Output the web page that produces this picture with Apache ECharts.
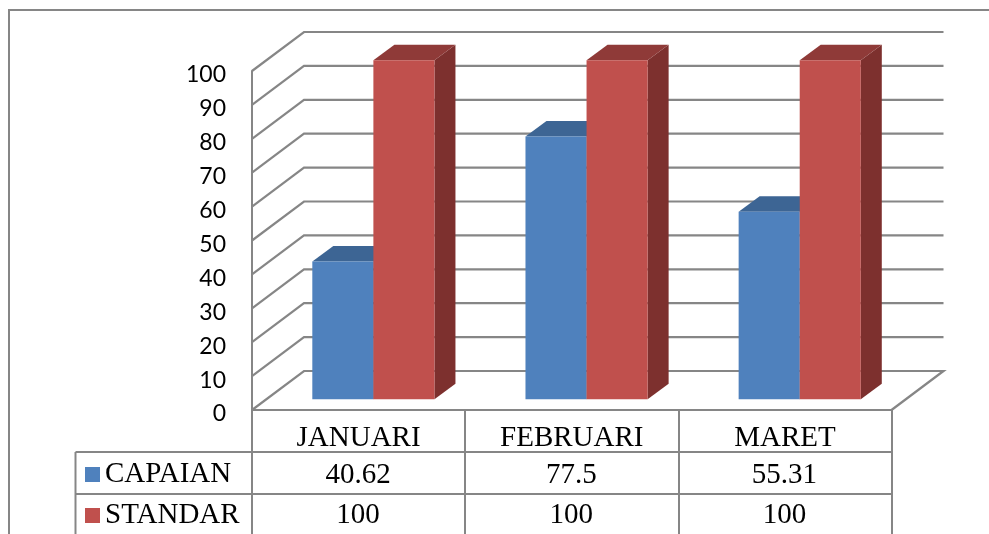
<!DOCTYPE html>
<html>
<head>
<meta charset="utf-8">
<style>html,body{margin:0;padding:0;background:#fff}#c{width:989px;height:534px}</style>
<script src="https://cdn.jsdelivr.net/npm/echarts@6/dist/echarts.min.js"></script>
</head>
<body>
<div id="c"></div>
<script>
var categories = ['JANUARI', 'FEBRUARI', 'MARET'];
var capaian = [40.62, 77.5, 55.31];
var standar = [100, 100, 100];
var yTicks = [0, 10, 20, 30, 40, 50, 60, 70, 80, 90, 100];

var LINE = '#868686', SERIF = '"Liberation Serif", serif';
var WALL = [52, -39], BAR_SHIFT = [14.8, -10.8], DEPTH = [21, -15.5];
var chart = echarts.init(document.getElementById('c'));

function wallRender(params, api) {
  var cs = params.coordSys, y = api.coord([0, api.value(1)])[1];
  var left = cs.x, right = cs.x + cs.width;
  var pts = [[left, y], [left + WALL[0], y + WALL[1]], [right + WALL[0], y + WALL[1]]];
  if (api.value(1) === 0) pts.push([right, y]);
  return { type: 'polyline', shape: { points: pts },
    style: { stroke: LINE, lineWidth: 2.2, fill: null } };
}

function barRender(side, colors, rowY) {
  return function (params, api) {
    var i = api.value(0), v = api.value(1);
    var w = api.size([1, 0])[0] * 0.2865;
    var cx = api.coord([i, 0])[0];
    var x0 = cx + BAR_SHIFT[0] + (side < 0 ? -w : 0), x1 = x0 + w;
    var yb = api.coord([i, 0])[1], bot = yb + BAR_SHIFT[1], top = api.coord([i, v])[1] + BAR_SHIFT[1];
    var dx = DEPTH[0], dy = DEPTH[1];
    return { type: 'group', children: [
      { type: 'polygon', shape: { points: [[x1, bot], [x1 + dx, bot + dy], [x1 + dx, top + dy], [x1, top]] }, style: { fill: colors[2] } },
      { type: 'polygon', shape: { points: [[x0, top], [x0 + dx, top + dy], [x1 + dx, top + dy], [x1, top]] }, style: { fill: colors[1] } },
      { type: 'rect', shape: { x: x0, y: top, width: w, height: bot - top }, style: { fill: colors[0] } },
      { type: 'text', x: cx - 0.5, y: yb + rowY, style: { text: String(v), fill: '#000', font: '29px ' + SERIF, align: 'center', verticalAlign: 'middle' } }
    ] };
  };
}

function rows(values) { return values.map(function (v, i) { return [i, v]; }); }
function hline(y) { return { type: 'line', shape: { x1: 75.5, y1: y, x2: 891.5, y2: y }, style: { stroke: LINE, lineWidth: 2 }, silent: true }; }

chart.setOption({
  animation: false,
  backgroundColor: '#fff',
  grid: { left: 252, right: 97.5, top: 71, bottom: 124, containLabel: false },
  legend: {
    orient: 'vertical', left: 85, top: 460, padding: 0, itemWidth: 15, itemHeight: 15, itemGap: 12, selectedMode: false,
    icon: 'rect', data: ['CAPAIAN', 'STANDAR'],
    textStyle: { fontFamily: SERIF, fontSize: 29, color: '#000' }
  },
  xAxis: {
    type: 'category', data: categories,
    axisLine: { lineStyle: { color: LINE, width: 2 } },
    axisTick: { show: true, length: 124, lineStyle: { color: LINE, width: 2 } },
    axisLabel: { interval: 0, margin: 14, fontFamily: SERIF, fontSize: 29, color: '#000' }
  },
  yAxis: {
    type: 'value', min: 0, max: 100, interval: 10,
    splitLine: { show: false },
    axisLine: { show: true, lineStyle: { color: LINE, width: 2 } },
    axisTick: { show: false },
    axisLabel: { margin: 26, fontFamily: 'Lato', fontSize: 23, color: '#000', verticalAlign: 'top', lineHeight: 8,
      formatter: function (v) { return yTicks.indexOf(v) >= 0 ? String(v) : ''; } }
  },
  graphic: [
    { type: 'polyline', shape: { points: [[9, 534], [9, 10], [989, 10]] }, style: { stroke: LINE, lineWidth: 2, fill: null }, silent: true },
    hline(452), hline(494),
    { type: 'line', shape: { x1: 75.5, y1: 452, x2: 75.5, y2: 534 }, style: { stroke: LINE, lineWidth: 2 }, silent: true }
  ],
  series: [
    { type: 'custom', name: 'walls', renderItem: wallRender, data: yTicks.map(function (v) { return [0, v]; }), encode: { x: 0, y: 1 }, z: 1, silent: true },
    { type: 'custom', name: 'CAPAIAN', renderItem: barRender(-1, ['#4F81BD', '#3D6594', '#33547C'], 65), data: rows(capaian), encode: { x: 0, y: 1 }, itemStyle: { color: '#4F81BD' }, z: 2, silent: true },
    { type: 'custom', name: 'STANDAR', renderItem: barRender(1, ['#C0504D', '#8F3A38', '#7D302E'], 105.5), data: rows(standar), encode: { x: 0, y: 1 }, itemStyle: { color: '#C0504D' }, z: 3, silent: true }
  ]
});
</script>
</body>
</html>
